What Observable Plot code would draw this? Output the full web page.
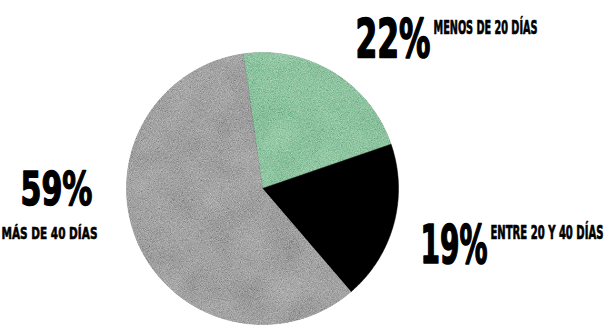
<!DOCTYPE html>
<html>
<head>
<meta charset="utf-8">
<script src="https://cdn.jsdelivr.net/npm/d3@7"></script>
<script src="https://cdn.jsdelivr.net/npm/@observablehq/plot@0.6"></script>
<style>
  html, body { margin: 0; padding: 0; background: #ffffff; }
  #chart svg { display: block; }
</style>
</head>
<body>
<div id="chart"></div>
<script>
// ---- data ----
const categories = ["MENOS DE 20 DÍAS", "ENTRE 20 Y 40 DÍAS", "MÁS DE 40 DÍAS"];
const values = [22, 19, 59];
const valueLabels = ["22%", "19%", "59%"];

// ---- styling / layout (not data) ----
const colors = ["#8fc4a1", "#000000", "#a2a2a2"];
const W = 609, H = 325;
const CX = 262, CY = 188, R = 136;        // pie centre & radius in px
const startDeg = -8.2;                    // rotation of first slice
// label placement in px: [x, baseline, width, fontSize, strokeWidth]
const numLayout = [[355, 56, 75, 53, 1.6], [420, 262, 67, 53, 1.6], [20, 204, 72, 46, 1.4]];
const catLayout = [[433, 33, 104, 19.5, 0.7], [490, 238, 113, 19.5, 0.7], [1, 238, 96, 16, 0.6]];

// px -> data units of the plot scales
const px2x = px => (px - CX) / R;
const px2y = py => (CY - py) / R;

// ---- pie geometry from values ----
const pie = d3.pie().sort(null).startAngle(startDeg * Math.PI / 180)
  .endAngle(startDeg * Math.PI / 180 + 2 * Math.PI)(values);
const slicePts = [];
pie.forEach((s, i) => {
  const cat = categories[i];
  slicePts.push({cat, x: 0, y: 0});
  const n = Math.max(2, Math.ceil((s.endAngle - s.startAngle) / (Math.PI / 360)));
  for (let k = 0; k <= n; k++) {
    const a = s.startAngle + (s.endAngle - s.startAngle) * k / n;
    slicePts.push({cat, x: Math.sin(a), y: Math.cos(a)});
  }
  slicePts.push({cat, x: 0, y: 0});
});

const mk = (t, L) => ({t, x: px2x(L[0]), y: px2y(L[1]), w: L[2], s: L[3], sw: L[4]});
const numText = valueLabels.map((t, i) => mk(t, numLayout[i]));
const catText = categories.map((t, i) => mk(t, catLayout[i]));

const font = "'DejaVu Sans Condensed', 'Liberation Sans Narrow', 'DejaVu Sans', sans-serif";

const plot = Plot.plot({
  width: W, height: H,
  margin: 0,
  x: {domain: [px2x(0), px2x(W)], axis: null},
  y: {domain: [px2y(H), px2y(0)], axis: null},
  color: {domain: categories, range: colors},
  style: {background: "#ffffff", overflow: "visible"},
  marks: [
    Plot.line(slicePts, {x: "x", y: "y", z: "cat", fill: "cat", stroke: "cat", strokeWidth: 0.5, curve: "linear"}),
    ...[...numText, ...catText].map(d => Plot.text([d], {x: "x", y: "y", text: "t", textAnchor: "start", lineAnchor: "bottom",
      fontSize: d.s, fontWeight: "bold", fontFamily: font, fill: "#000", stroke: "#000", strokeWidth: d.sw}))
  ]
});

// grain texture
const svg = d3.select(plot);
const defs = svg.insert("defs", ":first-child");
const gray = "0.33 0.33 0.33 0 0  0.33 0.33 0.33 0 0  0.33 0.33 0.33 0 0  0 0 0 0 1";
const f = defs.append("filter").attr("id", "grain").attr("x", 0).attr("y", 0).attr("width", "100%").attr("height", "100%");
f.append("feTurbulence").attr("type", "fractalNoise").attr("baseFrequency", 1.1).attr("numOctaves", 2).attr("seed", 4).attr("result", "fine");
f.append("feColorMatrix").attr("in", "fine").attr("type", "matrix").attr("values", gray).attr("result", "fineG");
f.append("feTurbulence").attr("type", "fractalNoise").attr("baseFrequency", 0.03).attr("numOctaves", 2).attr("seed", 9).attr("result", "coarse");
f.append("feColorMatrix").attr("in", "coarse").attr("type", "matrix").attr("values", gray).attr("result", "coarseG");
f.append("feComposite").attr("in", "SourceGraphic").attr("in2", "fineG").attr("operator", "arithmetic")
  .attr("k1", 0).attr("k2", 1).attr("k3", 0.7).attr("k4", -0.35).attr("result", "m1");
f.append("feComposite").attr("in", "m1").attr("in2", "coarseG").attr("operator", "arithmetic")
  .attr("k1", 0).attr("k2", 1).attr("k3", 0.2).attr("k4", -0.1).attr("result", "m2");
f.append("feComposite").attr("in", "m2").attr("in2", "SourceGraphic").attr("operator", "in");

svg.selectAll("g[aria-label='line'] path").each(function() {
  const fill = (this.getAttribute("fill") || "").toLowerCase();
  if (fill !== "#000000" && fill !== "rgb(0, 0, 0)" && fill !== "black") this.setAttribute("filter", "url(#grain)");
});

document.getElementById("chart").appendChild(plot);

// squeeze texts horizontally to the condensed widths of the reference
const widths = new Map([...numText, ...catText].map(d => [d.t, d.w]));
svg.selectAll("text").each(function() {
  const w = widths.get(this.textContent);
  if (!w) return;
  const nat = this.getComputedTextLength();
  if (!nat) return;
  const sx = w / nat;
  const tr = this.getAttribute("transform") || "";
  this.setAttribute("transform", tr + ` scale(${sx},1)`);
});
</script>
</body>
</html>
